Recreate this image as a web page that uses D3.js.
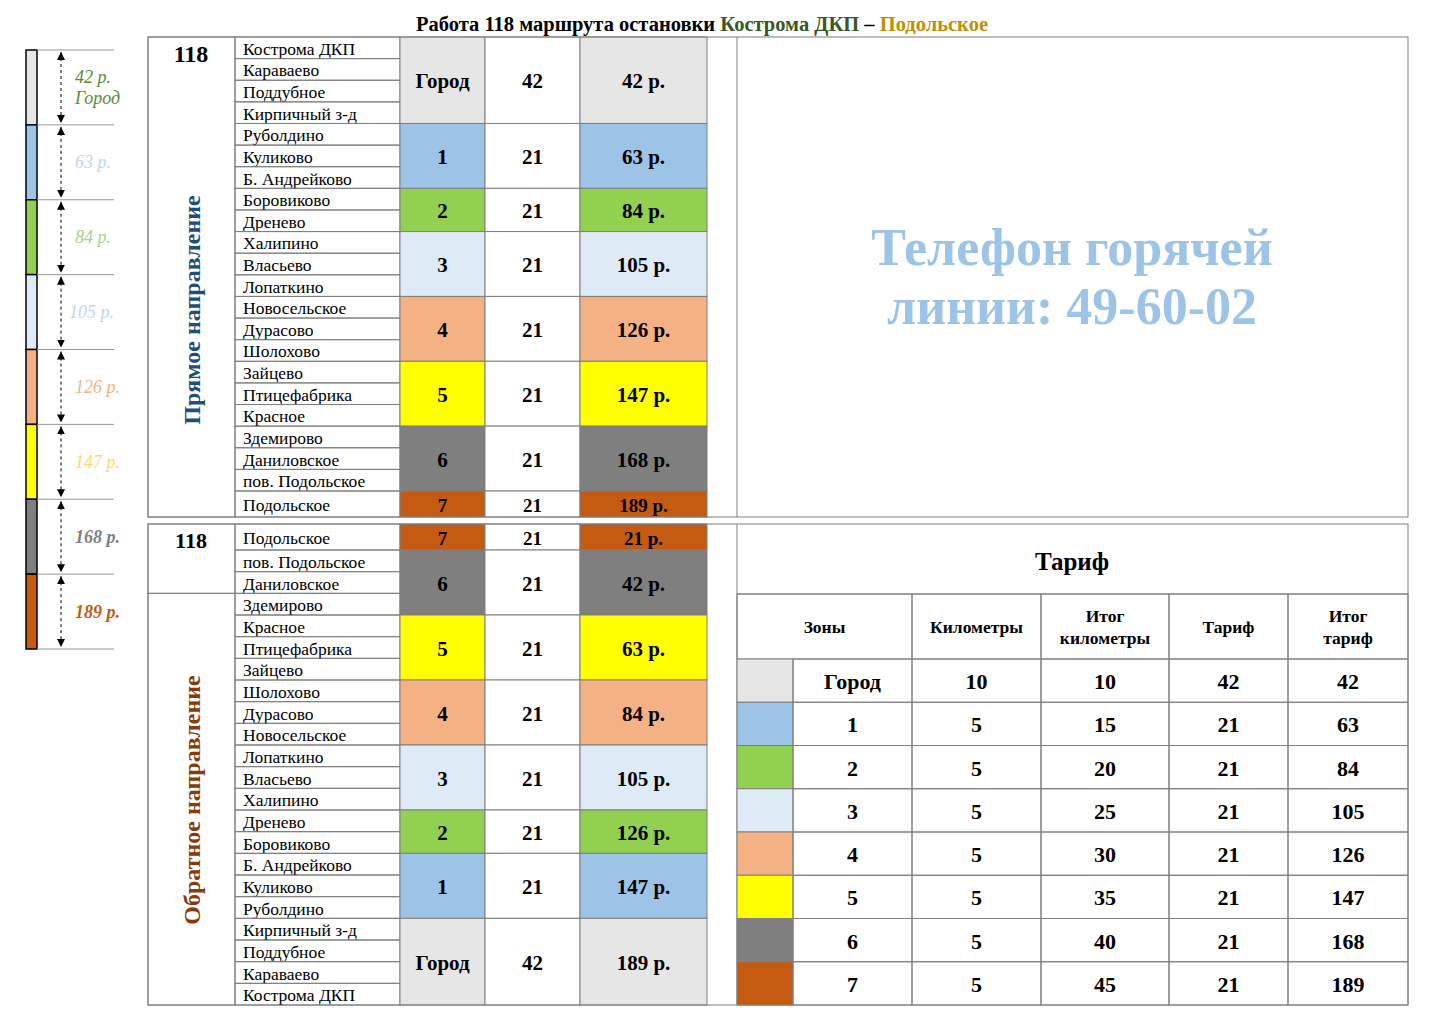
<!DOCTYPE html>
<html><head><meta charset="utf-8">
<script src="https://cdn.jsdelivr.net/npm/d3@7"></script>
<style>body{margin:0;background:#fff}text{font-family:"Liberation Serif","Times New Roman",serif}</style>
</head><body><svg id="c" width="1448" height="1024"></svg>
<script>
const stopsForward = ["Кострома ДКП","Караваево","Поддубное","Кирпичный з-д","Руболдино","Куликово","Б. Андрейково","Боровиково","Дренево","Халипино","Власьево","Лопаткино","Новосельское","Дурасово","Шолохово","Зайцево","Птицефабрика","Красное","Здемирово","Даниловское","пов. Подольское","Подольское"];
const stopsBack = ["Подольское","пов. Подольское","Даниловское","Здемирово","Красное","Птицефабрика","Зайцево","Шолохово","Дурасово","Новосельское","Лопаткино","Власьево","Халипино","Дренево","Боровиково","Б. Андрейково","Куликово","Руболдино","Кирпичный з-д","Поддубное","Караваево","Кострома ДКП"];
const zoneNames = ["Город","1","2","3","4","5","6","7"];
const zoneColors = ["#e7e6e6","#9dc3e6","#92d050","#deebf7","#f4b183","#ffff00","#7f7f7f","#c55a11"];
const forwardZones = ["Город","1","2","3","4","5","6","7"];
const forwardRows  = [4,3,2,3,3,3,3,1];
const forwardKm    = [42,21,21,21,21,21,21,21];
const forwardPrice = ["42 р.","63 р.","84 р.","105 р.","126 р.","147 р.","168 р.","189 р."];
const backZones = ["7","6","5","4","3","2","1","Город"];
const backRows  = [1,3,3,3,3,2,3,4];
const backKm    = [21,21,21,21,21,21,21,42];
const backPrice = ["21 р.","42 р.","63 р.","84 р.","105 р.","126 р.","147 р.","189 р."];
const tariffHeaders = ["Зоны","Километры","Итог\nкилометры","Тариф","Итог\nтариф"];
const tariffKm = [10,5,5,5,5,5,5,5];
const tariffKmTotal = [10,15,20,25,30,35,40,45];
const tariffRate = [42,21,21,21,21,21,21,21];
const tariffTotal = [42,63,84,105,126,147,168,189];
const legendLabels = ["42 р.|Город","63 р.","84 р.","105 р.","126 р.","147 р.","168 р.","189 р."];
const legendTextColors = ["#5e8a36","#bdd7ee","#a9d18e","#bdd7ee","#f4b183","#ffd966","#7f7f7f","#c55a11"];

const svg = d3.select("#c");
const color = d3.scaleOrdinal().domain(zoneNames).range(zoneColors);
const LINE = "#7f7f7f";

const title = svg.append("text").attr("x",702).attr("y",31).attr("text-anchor","middle")
  .style("font-size","20.5px").style("font-weight","bold");
title.append("tspan").text("Работа 118 маршрута остановки ");
title.append("tspan").attr("fill","#385723").text("Кострома ДКП");
title.append("tspan").text(" – ");
title.append("tspan").attr("fill","#bf9000").text("Подольское");

const colX = [148,235,400,485,580,707];

function cell(g,x,y,w,h,fill){
  g.append("rect").attr("x",x).attr("y",y).attr("width",w).attr("height",h)
   .attr("fill",fill||"none").attr("stroke",LINE).attr("stroke-width",1);
}
function txt(g,x,y,s,opt){
  const t=g.append("text").attr("x",x).attr("y",y).attr("dominant-baseline","central")
    .attr("text-anchor",opt.anchor||"middle").style("font-size",opt.size+"px")
    .attr("fill",opt.fill||"#000").text(s);
  if(opt.bold) t.style("font-weight","bold");
  if(opt.italic) t.style("font-style","italic");
  return t;
}

function drawRoute(stops, zones, rows, km, price, y0, y1, firstH, headSpan, label, labelColor, labelY){
  const g = svg.append("g");
  const n = stops.length;
  const edges = [];
  if(firstH){ edges.push(y0, y0+firstH); const s=d3.scaleLinear().domain([1,n]).range([y0+firstH,y1]); for(let i=2;i<=n;i++) edges.push(s(i)); }
  else { const lastTop=y1-26; const s=d3.scaleLinear().domain([0,n-1]).range([y0,lastTop]); for(let i=0;i<n;i++) edges[i]=s(i); edges.push(y1); }
  stops.forEach((d,i)=>{
    cell(g,colX[1],edges[i],colX[2]-colX[1],edges[i+1]-edges[i]);
    txt(g,colX[1]+8,(edges[i]+edges[i+1])/2+1,d,{size:17.5,anchor:"start"});
  });
  let r=0;
  zones.forEach((z,i)=>{
    const ya=edges[r], yb=edges[r+rows[i]]; r+=rows[i];
    const cy=(ya+yb)/2+1, fz=rows[i]==1?19:21;
    cell(g,colX[2],ya,colX[3]-colX[2],yb-ya,color(z));
    cell(g,colX[3],ya,colX[4]-colX[3],yb-ya,"#fff");
    cell(g,colX[4],ya,colX[5]-colX[4],yb-ya,color(z));
    txt(g,(colX[2]+colX[3])/2,cy,z,{size:fz,bold:true});
    txt(g,(colX[3]+colX[4])/2,cy,km[i],{size:fz,bold:true});
    txt(g,(colX[4]+colX[5])/2,cy,price[i],{size:fz,bold:true});
  });
  if(headSpan){
    const yh=edges[headSpan];
    cell(g,colX[0],y0,colX[1]-colX[0],yh-y0);
    cell(g,colX[0],yh,colX[1]-colX[0],y1-yh);
    txt(g,191,y0+16,"118",{size:22,bold:true});
  } else {
    cell(g,colX[0],y0,colX[1]-colX[0],y1-y0);
    txt(g,191,y0+17,"118",{size:24,bold:true});
  }
  txt(g,0,0,label,{size:24,bold:true,fill:labelColor}).attr("transform",`translate(192,${labelY}) rotate(-90)`);
  cell(g,colX[0],y0,1408-colX[0],y1-y0);
  g.append("line").attr("x1",737).attr("x2",737).attr("y1",y0).attr("y2",y1).attr("stroke",LINE);
}

drawRoute(stopsForward,forwardZones,forwardRows,forwardKm,forwardPrice,37,517,0,0,"Прямое направление","#1f4e79",310);
drawRoute(stopsBack,backZones,backRows,backKm,backPrice,524,1005,26,3,"Обратное направление","#843c0c",800);

svg.append("text").attr("x",1072).attr("y",265).attr("text-anchor","middle").attr("fill","#9dc3e6")
  .style("font-size","52px").style("font-weight","bold").text("Телефон горячей");
svg.append("text").attr("x",1072).attr("y",324).attr("text-anchor","middle").attr("fill","#9dc3e6")
  .style("font-size","52px").style("font-weight","bold").text("линии: 49-60-02");

const tg = svg.append("g");
txt(tg,1072,561,"Тариф",{size:25,bold:true});
tg.append("line").attr("x1",737).attr("x2",1408).attr("y1",594).attr("y2",594).attr("stroke",LINE);
const tx = [737,793,912,1041,1169,1288,1408];
const hdrX = [[737,912],[912,1041],[1041,1169],[1169,1288],[1288,1408]];
tariffHeaders.forEach((h,i)=>{
  cell(tg,hdrX[i][0],594,hdrX[i][1]-hdrX[i][0],65);
  const parts=h.split("\n"), cx=(hdrX[i][0]+hdrX[i][1])/2;
  parts.forEach((p,j)=>txt(tg,cx,627+(j-(parts.length-1)/2)*22,p,{size:17.5,bold:true}));
});
const ry = d3.scaleBand().domain(d3.range(zoneNames.length)).range([659,1005]);
zoneNames.forEach((z,i)=>{
  const y=ry(i), h=ry.bandwidth(), cy=y+h/2+1;
  cell(tg,tx[0],y,tx[1]-tx[0],h,zoneColors[i]);
  const vals=[z,tariffKm[i],tariffKmTotal[i],tariffRate[i],tariffTotal[i]];
  vals.forEach((v,j)=>{
    cell(tg,tx[j+1],y,tx[j+2]-tx[j+1],h);
    txt(tg,(tx[j+1]+tx[j+2])/2,cy,v,{size:22,bold:true});
  });
});

const lg = svg.append("g");
const ly = d3.scaleBand().domain(d3.range(zoneNames.length)).range([50,649]);
lg.append("defs").append("marker").attr("id","ah").attr("viewBox","0 0 10 10").attr("refX",10).attr("refY",5)
  .attr("markerWidth",8).attr("markerHeight",8).attr("orient","auto-start-reverse")
  .append("path").attr("d","M0,0L10,5L0,10z").attr("fill","#000");
zoneNames.forEach((z,i)=>{
  const y=ly(i), h=ly.bandwidth();
  lg.append("rect").attr("x",26).attr("y",y).attr("width",11).attr("height",h).attr("fill",zoneColors[i]).attr("stroke","#000").attr("stroke-width",1.5);
  lg.append("line").attr("x1",37).attr("x2",114).attr("y1",y).attr("y2",y).attr("stroke","#999");
  lg.append("line").attr("x1",61).attr("x2",61).attr("y1",y+2).attr("y2",y+h-2).attr("stroke","#000")
    .attr("stroke-dasharray","3,3").attr("marker-start","url(#ah)").attr("marker-end","url(#ah)");
  const parts=legendLabels[i].split("|"), bold=i>=6;
  parts.forEach((p,j)=>txt(lg,i==3?69:75,y+h/2+(j-(parts.length-1)/2)*21,p,{size:18,italic:true,bold:bold,anchor:"start",fill:legendTextColors[i]}));
});
lg.append("line").attr("x1",37).attr("x2",114).attr("y1",649).attr("y2",649).attr("stroke","#999");
</script></body></html>
